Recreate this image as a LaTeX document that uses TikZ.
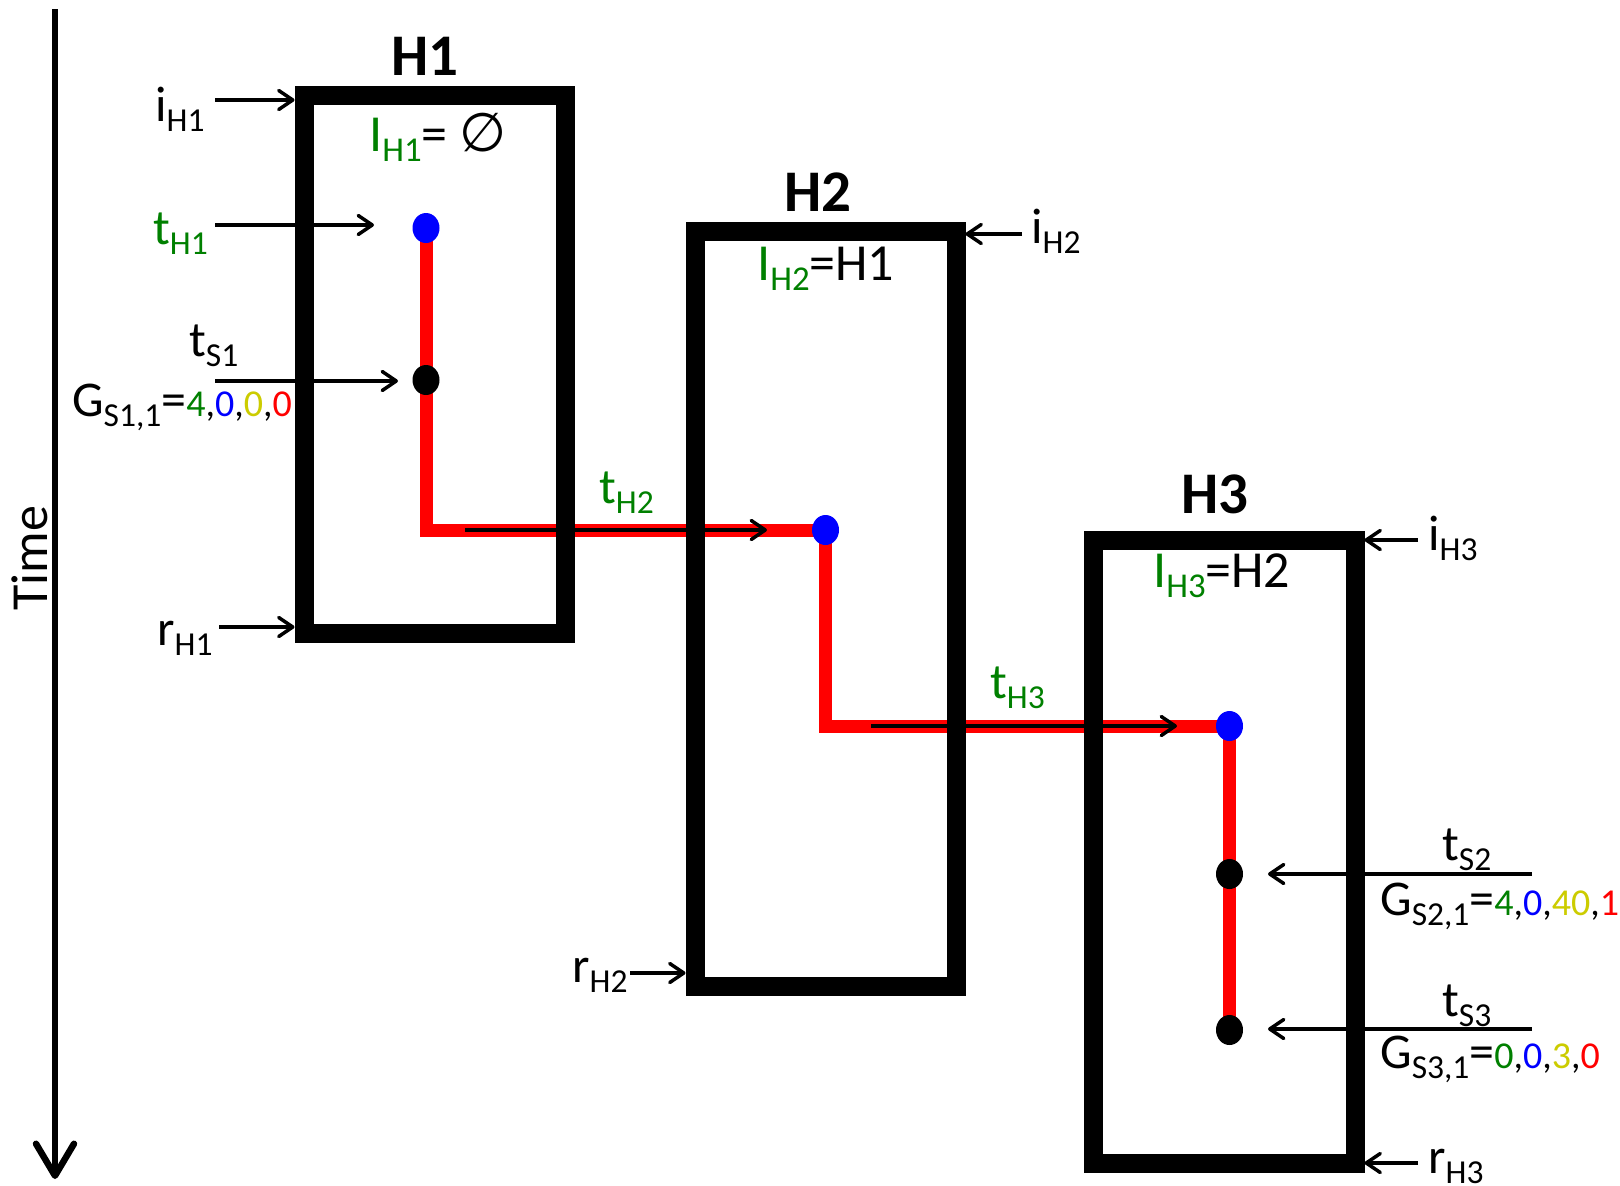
\documentclass[tikz,border=0pt]{standalone}
\usepackage{fontspec}
\setmainfont{Carlito}
\newfontfamily\djv{DejaVu Sans}
\usetikzlibrary{arrows.meta,shapes.geometric}
\definecolor{dgreen}{RGB}{0,128,0}
\definecolor{dyellow}{RGB}{204,204,0}
\definecolor{pblue}{RGB}{0,0,255}
\definecolor{pred}{RGB}{255,0,0}
\newcommand\sbs[1]{\raisebox{-0.21em}{\scalebox{0.67}{#1}}}
\newcommand\dg[1]{{\fontsize{38}{42}\selectfont #1}}
\begin{document}
\begin{tikzpicture}[x=1pt,y=-1pt,
  hbox/.style={draw=black, line width=19pt, rectangle, inner sep=0pt, outer sep=9.5pt},
  pdot/.style={ellipse, inner sep=0pt, outer sep=0pt, minimum width=27pt, minimum height=30pt, fill=#1},
  lab/.style={inner sep=0pt, anchor=base west, font=\fontsize{50}{60}\selectfont},
  inlab/.style={inner sep=0pt, anchor=base west, font=\fontsize{52}{60}\selectfont},
  ttl/.style={inner sep=0pt, anchor=base, font=\fontsize{59}{70}\selectfont\bfseries},
  arr/.style={line width=3.5pt, -{Straight Barb[length=14pt,width=19pt,round]}},
  redline/.style={draw=pred, line width=13pt, line join=miter}]
\path[fill=white] (0,0) rectangle (1620,1186);
\useasboundingbox (0,0) rectangle (1620,1186);

% time axis
\coordinate (T0) at (55,9);
\coordinate (T1) at (55,1179);
\draw[line width=6.5pt, -{Straight Barb[length=32pt,width=38pt,round]}] (T0) -- (T1);
\node[inner sep=0pt, anchor=base, rotate=90, font=\fontsize{52}{60}\selectfont] (timelab) at (47,558) {Time};

% dots (positions)
\coordinate (pbH1) at (426,228);
\coordinate (pbH2) at (825.5,530);
\coordinate (pbH3) at (1229.5,726);
\coordinate (pkS3) at (1229.5,1030);

% red path
\draw[redline] (pbH1) |- (pbH2) |- (pbH3) -- (pkS3);

% boxes
\node[hbox, minimum width=261pt, minimum height=538pt] (H1) at (434.5,364) {};
\node[hbox, minimum width=261pt, minimum height=755pt] (H2) at (825.5,608.5) {};
\node[hbox, minimum width=262pt, minimum height=623pt] (H3) at (1224,851.5) {};

% dots
\node[pdot=pblue] (bH1) at (pbH1) {};
\node[pdot=black] (kS1) at (426,380) {};
\node[pdot=pblue] (bH2) at (pbH2) {};
\node[pdot=pblue] (bH3) at (pbH3) {};
\node[pdot=black] (kS2) at (1229.5,874) {};
\node[pdot=black] (kS3) at (pkS3) {};

% titles
\node[ttl] (tit1) at (425,75) {H1};
\node[ttl] (tit2) at (818,211) {H2};
\node[ttl] (tit3) at (1215,513) {H3};

% labels inside boxes
\node[inlab] (IH1) at (369,151) {{\color{dgreen}I\sbs{H1}}= {\djv\fontsize{54}{60}\selectfont ∅}};
\node[inlab] (IH2) at (757,280) {{\color{dgreen}I\sbs{H2}}=H1};
\node[inlab] (IH3) at (1153,587) {{\color{dgreen}I\sbs{H3}}=H2};

% left labels
\node[lab] (iH1) at (155,121) {i\sbs{H1}};
\node[lab, text=dgreen] (tH1) at (153,244) {t\sbs{H1}};
\node[lab] (tS1) at (189,356) {t\sbs{S1}};
\node[lab] (GS1) at (72,416) {G\sbs{S1,1}=\dg{{\color{dgreen}4},{\color{pblue}0},{\color{dyellow}0},{\color{pred}0}}};
\node[lab] (rH1) at (157,645) {r\sbs{H1}};
\node[lab, text=dgreen] (tH2) at (599,503) {t\sbs{H2}};
\node[lab] (iH2) at (1031,243) {i\sbs{H2}};
\node[lab, text=dgreen] (tH3) at (990,698) {t\sbs{H3}};
\node[lab] (rH2) at (572,982) {r\sbs{H2}};
\node[lab] (iH3) at (1428,550) {i\sbs{H3}};
\node[lab] (rH3) at (1428,1173) {r\sbs{H3}};
\node[lab] (tS2) at (1442,860) {t\sbs{S2}};
\node[lab] (GS2) at (1380,915) {G\sbs{S2,1}=\dg{{\color{dgreen}4},{\color{pblue}0},{\color{dyellow}40},{\color{pred}1}}};
\node[lab] (tS3) at (1442,1016) {t\sbs{S3}};
\node[lab] (GS3) at (1380,1068) {G\sbs{S3,1}=\dg{{\color{dgreen}0},{\color{pblue}0},{\color{dyellow}3},{\color{pred}0}}};

% arrow coordinates
\coordinate (iH1s) at (215,100);
\coordinate (tH1s) at (215,225);
\coordinate (tH1e) at (374,225);
\coordinate (tS1s) at (215,381);
\coordinate (tS1e) at (398,381);
\coordinate (tH2s) at (465,530);
\coordinate (tH2e) at (767,530);
\coordinate (rH1s) at (219,627);
\coordinate (iH2s) at (1022,234);
\coordinate (tH3s) at (871,726);
\coordinate (tH3e) at (1177,726);
\coordinate (rH2s) at (630,973);
\coordinate (iH3s) at (1418,540);
\coordinate (rH3s) at (1418,1163);
\coordinate (tS2s) at (1532,874);
\coordinate (tS2e) at (1268,874);
\coordinate (tS3s) at (1532,1029);
\coordinate (tS3e) at (1268,1029);

% arrows
\draw[arr] (iH1s) -- (iH1s -| H1.west);
\draw[arr] (tH1s) -- (tH1e);
\draw[arr] (tS1s) -- (tS1e);
\draw[arr] (tH2s) -- (tH2e);
\draw[arr] (rH1s) -- (rH1s -| H1.west);
\draw[arr] (iH2s) -- (iH2s -| H2.east);
\draw[arr] (tH3s) -- (tH3e);
\draw[arr] (rH2s) -- (rH2s -| H2.west);
\draw[arr] (iH3s) -- (iH3s -| H3.east);
\draw[arr] (rH3s) -- (rH3s -| H3.east);
\draw[arr] (tS2s) -- (tS2e);
\draw[arr] (tS3s) -- (tS3e);
\end{tikzpicture}
\end{document}
